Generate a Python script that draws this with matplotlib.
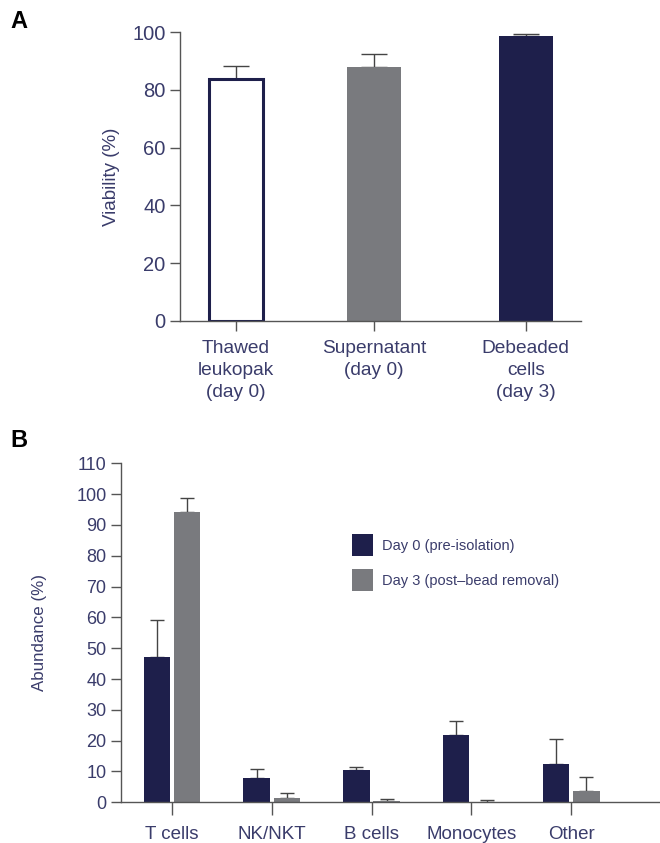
import numpy as np
import matplotlib
matplotlib.use("Agg")
import matplotlib.pyplot as plt

plt.rcParams['font.family'] = ['Liberation Sans', 'DejaVu Sans']

# panel A data
viab_labels = ["Thawed\nleukopak\n(day 0)", "Supernatant\n(day 0)", "Debeaded\ncells\n(day 3)"]
viab_mean = [83.6, 87.8, 98.6]
viab_err = [4.7, 4.7, 0.7]

# panel B data
cell_types = ["T cells", "NK/NKT", "B cells", "Monocytes", "Other"]
day0_mean = [47.2, 7.9, 10.5, 21.8, 12.4]
day0_err = [12.0, 3.0, 0.9, 4.7, 8.2]
day3_mean = [94.2, 1.4, 0.4, 0.2, 3.7]
day3_err = [4.4, 1.7, 0.8, 0.4, 4.4]
series_names = ["Day 0 (pre-isolation)", "Day 3 (post\u2013bead removal)"]

navy = '#1e1f4b'
grey = '#797a7e'
txt = '#3a3c6b'
spine = '#555555'

fig = plt.figure(figsize=(6.6, 8.43), dpi=100)

def style(ax):
    for s in ['top', 'right']:
        ax.spines[s].set_visible(False)
    for s in ['left', 'bottom']:
        ax.spines[s].set_color(spine)
        ax.spines[s].set_linewidth(1.0)
    ax.tick_params(colors=spine, labelcolor=txt, width=1.0)

# ---- A ----
axA = fig.add_axes([180/660, 1-321/843, 401/660, 289/843])
xa = np.array([0, 1, 2.1])
axA.errorbar(xa, viab_mean, yerr=[np.zeros(3), viab_err], fmt='none',
             ecolor='#444444', elinewidth=1.0, capsize=9.7, capthick=1.0, zorder=1)
axA.bar(xa, viab_mean, width=0.39, color=['white', grey, navy],
        edgecolor=[navy, grey, navy], linewidth=[2.2, 0, 0], zorder=2)
axA.set_xlim(-0.406, 2.5)
axA.set_ylim(0, 100)
axA.set_yticks([0, 20, 40, 60, 80, 100])
axA.set_xticks(xa)
axA.set_xticklabels(viab_labels, linespacing=1.35)
style(axA)
axA.tick_params(axis='y', length=7, pad=3.5, labelsize=14.5)
axA.tick_params(axis='x', length=7, pad=7, labelsize=13.8)
axA.set_ylabel("Viability (%)", color=txt, fontsize=13.5, labelpad=9)
axA.spines['left'].set_zorder(3)

# ---- B ----
axB = fig.add_axes([121/660, 1-802.3/843, 539/660, 339/843])
xb = np.arange(len(cell_types))
axB.errorbar(xb - 0.152, day0_mean, yerr=[np.zeros(5), day0_err], fmt='none',
             ecolor='#444444', elinewidth=1.0, capsize=5, capthick=1.0, zorder=1)
axB.errorbar(xb + 0.152, day3_mean, yerr=[np.zeros(5), day3_err], fmt='none',
             ecolor='#444444', elinewidth=1.0, capsize=5, capthick=1.0, zorder=1)
axB.bar(xb - 0.152, day0_mean, width=0.265, color=navy, label=series_names[0], zorder=2)
axB.bar(xb + 0.152, day3_mean, width=0.265, color=grey, label=series_names[1], zorder=2)
axB.set_xlim(-0.51, 4.89)
axB.set_ylim(0, 110)
axB.set_yticks(np.arange(0, 111, 10))
axB.set_xticks(xb)
axB.set_xticklabels(cell_types)
style(axB)
axB.tick_params(axis='y', length=7, pad=3.5, labelsize=13)
axB.tick_params(axis='x', length=9, pad=8, labelsize=13.5)
axB.set_ylabel("Abundance (%)", color=txt, fontsize=12.2, labelpad=21)
axB.legend(loc='upper left', bbox_to_anchor=(352/660, 1-534/843),
           bbox_transform=fig.transFigure, frameon=False, fontsize=10.5,
           handlelength=1.45, handleheight=1.95, handletextpad=0.6,
           labelspacing=0.9, borderpad=0, borderaxespad=0, labelcolor=txt)

fig.text(10/660, 1-28/843, "A", fontsize=17, fontweight='bold', color='black')
fig.text(10/660, 1-447/843, "B", fontsize=17, fontweight='bold', color='black')

fig.savefig("out.png", dpi=100)
